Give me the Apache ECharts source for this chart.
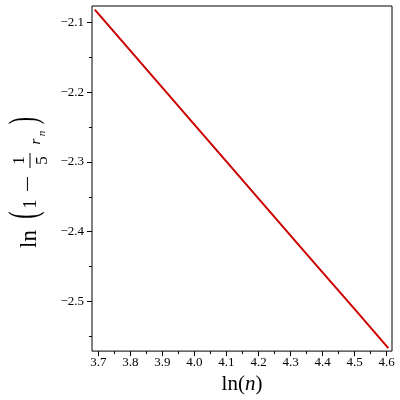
<!DOCTYPE html>
<html>
<head>
<meta charset="utf-8">
<style>
  html, body { margin: 0; padding: 0; background: #fff; }
  #chart { width: 400px; height: 400px; }
</style>
<script src="https://cdn.jsdelivr.net/npm/echarts@6/dist/echarts.min.js"></script>
</head>
<body>
<div id="chart"></div>
<script>
// values: x = ln(n), y = ln(1 - r_n/5)
const lnN = [3.689, 3.912, 4.094, 4.248, 4.382, 4.500, 4.605];
const lnTerm = [-2.082, -2.200, -2.2965, -2.378, -2.449, -2.511, -2.5667];

const xMajor = [3.7, 3.8, 3.9, 4.0, 4.1, 4.2, 4.3, 4.4, 4.5, 4.6];
const xMinor = [3.75, 3.85, 3.95, 4.05, 4.15, 4.25, 4.35, 4.45, 4.55];
const yMajor = [-2.5, -2.4, -2.3, -2.2, -2.1];
const yMinor = [-2.55, -2.45, -2.35, -2.25, -2.15];

const serif = '"Liberation Serif", "DejaVu Serif", serif';
const chart = echarts.init(document.getElementById('chart'));

function txt(text, x, y, size, italic, sx, sy) {
  return {
    type: 'text', x: x, y: y, scaleX: sx || 1, scaleY: sy || 1,
    style: {
      text: text, fill: '#000',
      font: (italic ? 'italic ' : '') + size + 'px ' + serif,
      align: 'center', verticalAlign: 'middle',
      textAlign: 'center', textVerticalAlign: 'middle'
    }
  };
}

const fmt = v => v.toFixed(1).replace('-', '\u2212');

chart.setOption({
  animation: false,
  grid: { show: true, left: 92, right: 8, top: 6, bottom: 48, borderColor: '#000', borderWidth: 1 },
  xAxis: [
    {
      type: 'value', min: 3.6803, max: 4.6165,
      axisLine: { show: false }, splitLine: { show: false },
      axisTick: { show: true, length: 5, customValues: xMajor, lineStyle: { color: '#000' } },
      axisLabel: { customValues: xMajor, formatter: fmt, margin: 5, color: '#000', fontFamily: serif, fontSize: 13 },
      name: '{a|ln(}{b|n}{a|)}', nameLocation: 'middle', nameGap: 15,
      nameTextStyle: {
        rich: {
          a: { fontFamily: serif, fontSize: 21, color: '#000' },
          b: { fontFamily: serif, fontSize: 21, fontStyle: 'italic', color: '#000' }
        }
      }
    },
    {
      type: 'value', min: 3.6803, max: 4.6165, position: 'bottom',
      axisLine: { show: false }, splitLine: { show: false }, axisLabel: { show: false },
      axisTick: { show: true, length: 3, customValues: xMinor, lineStyle: { color: '#000' } }
    }
  ],
  yAxis: [
    {
      type: 'value', min: -2.571, max: -2.0767,
      axisLine: { show: false }, splitLine: { show: false },
      axisTick: { show: true, length: 5, customValues: yMajor, lineStyle: { color: '#000' } },
      axisLabel: { customValues: yMajor, formatter: fmt, margin: 8, color: '#000', fontFamily: serif, fontSize: 13 }
    },
    {
      type: 'value', min: -2.571, max: -2.0767, position: 'left',
      axisLine: { show: false }, splitLine: { show: false }, axisLabel: { show: false },
      axisTick: { show: true, length: 3, customValues: yMinor, lineStyle: { color: '#000' } }
    }
  ],
  // y title: ln(1 - (1/5) r_n), rotated
  graphic: [{
    type: 'group', x: 38, y: 250, rotation: Math.PI / 2,
    children: [
      txt('ln', 11, -8, 23, false),
      txt('(', 35, -12, 22, false, 1, 1.8),
      txt('1', 46, -6.5, 19, false),
      txt('\u2212', 66, -9.75, 20, false, 1.5, 1),
      { type: 'line', shape: { x1: 82, y1: -8, x2: 97, y2: -8 }, style: { stroke: '#000', lineWidth: 1 } },
      txt('1', 89.5, -18.5, 17, false),
      txt('5', 89.5, 4.5, 17, false),
      txt('r', 108.5, -2, 15, true),
      txt('n', 116.5, 4, 11, true),
      txt(')', 129.5, -12, 22, false, 1, 1.8)
    ]
  }],
  series: [{
    type: 'line',
    data: lnN.map((x, i) => [x, lnTerm[i]]),
    showSymbol: false,
    lineStyle: { color: '#cc0000', width: 2 }
  }]
});
</script>
</body>
</html>
